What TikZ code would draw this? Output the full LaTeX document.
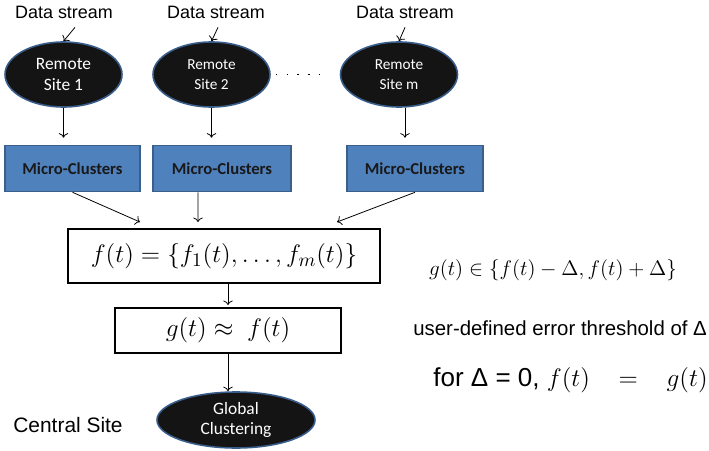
\documentclass[tikz,border=0pt]{standalone}
\usepackage{amsmath}
\usepackage[no-math]{fontspec}
\setmainfont{Liberation Sans}
\newfontfamily\calibri{Carlito}
\usepackage{tikz}
\usetikzlibrary{
	arrows.meta,
	calc,
	positioning,
	shapes.geometric
}
\definecolor{SiteFill}{RGB}{20,20,20}
\definecolor{SiteRim}{RGB}{56,93,138}
\definecolor{BoxBlue}{RGB}{79,129,189}
\definecolor{BoxRim}{RGB}{58,95,139}

\begin{document}
\begin{tikzpicture}[
		site/.style={ellipse, draw=SiteRim, line width=0.9pt, fill=SiteFill, text=white, inner sep=0pt,
			minimum width=2.34cm, minimum height=1.3cm, align=center, font=\calibri\fontsize{8.7}{11.3}\selectfont},
		mcbox/.style={rectangle, draw=BoxRim, line width=0.9pt, fill=BoxBlue, text={black!90}, inner sep=0pt,
			minimum height=0.92cm, font=\calibri\bfseries\fontsize{9.5}{11}\selectfont},
		eqbox/.style={rectangle, draw, line width=1.1pt, inner sep=0pt},
		stream/.style={font=\fontsize{10.2}{12}\selectfont, inner sep=1pt},
		link/.style={->, line width=0.45pt}
	]
	\useasboundingbox (0,0) rectangle (14.18,9);
	% remote sites
	\node[stream] (ds1) at (1.28,8.76) {Data stream};
	\node[stream] (ds2) at (4.32,8.76) {Data stream};
	\node[stream] (dsm) at (8.10,8.76) {Data stream};
	\node[site, font=\calibri\fontsize{9.9}{12.5}\selectfont] (site1) at (1.27,7.51) {Remote\\Site 1};
	\node[site] (site2) at (4.23,7.51) {Remote\\Site 2};
	\node[site] (sitem) at (7.98,7.51) {Remote\\Site m};
	\draw[link] ([xshift=0.22cm, yshift=-0.14cm]ds1.south) -- (site1.north);
	\draw[link] ([xshift=0.04cm, yshift=-0.14cm]ds2.south) -- (site2.north);
	\draw[link] ([yshift=-0.14cm]dsm.south) -- (sitem.north);
	\draw[line width=0.9pt, dash pattern=on 0.9pt off 5.2pt, shorten <=0.1cm, shorten >=0.38cm] (site2) -- (sitem);
	% micro-clusters
	\node[mcbox, minimum width=2.70cm] (mc1) at (1.45,5.63) {Micro-Clusters};
	\node[mcbox, minimum width=2.76cm] (mc2) at (4.44,5.63) {Micro-Clusters};
	\node[mcbox, minimum width=2.72cm] (mc3) at (8.30,5.63) {Micro-Clusters};
	\draw[link, shorten >=0.14cm] (site1.south) -- (site1.south |- mc1.north);
	\draw[link, shorten >=0.14cm] (site2.south) -- (site2.south |- mc2.north);
	\draw[link, shorten >=0.14cm] ([xshift=0.12cm]sitem.south) -- ([xshift=0.12cm]sitem.south |- mc3.north);
	% central site
	\node[eqbox, minimum width=6.24cm, minimum height=1.08cm, font=\fontsize{15}{17}\selectfont] (fbox) at (4.48,3.88)
		{$f(t) = \{f_1(t), \ldots, f_m(t)\}$};
	\node[eqbox, minimum width=4.52cm, minimum height=0.90cm, font=\fontsize{13.5}{15}\selectfont] (gbox) at (4.56,2.39)
		{$g(t) \approx\ f(t)$};
	\node[site, minimum width=3.16cm, minimum height=1.12cm, font=\calibri\fontsize{9.9}{11.3}\selectfont] (glob) at (4.72,0.60)
		{Global\\Clustering};
	\draw[link] (mc1.south) -- ([xshift=-1.68cm, yshift=0.12cm]fbox.north);
	\draw[link] ([xshift=-0.48cm]mc2.south) -- ([xshift=-0.52cm, yshift=0.12cm]fbox.north);
	\draw[link] (mc3.south) -- ([xshift=2.26cm, yshift=0.12cm]fbox.north);
	\draw[link, shorten >=0.04cm] (gbox.north |- fbox.south) -- (gbox.north);
	\draw[link] (gbox.south) -- (gbox.south |- glob.north);
	\node[font=\fontsize{11.9}{14}\selectfont] (central) at (1.36,0.50) {Central Site};
	% error bound
	\node[font=\fontsize{12.3}{14}\selectfont] (bound) at (11.06,3.60)
		{$g(t) \in \{f(t) - \Delta, f(t) + \Delta\}$};
	\node[anchor=west, inner sep=0pt, font=\fontsize{11.6}{14}\selectfont] (thresh) at (8.26,2.44)
		{user-defined error threshold of Δ};
	\node[anchor=west, inner sep=0pt, font=\fontsize{14.8}{17}\selectfont] (exact) at (8.66,1.40)
		{for Δ = 0, $f(t)\ \ \ =\ \ \ g(t)$};
\end{tikzpicture}
\end{document}
